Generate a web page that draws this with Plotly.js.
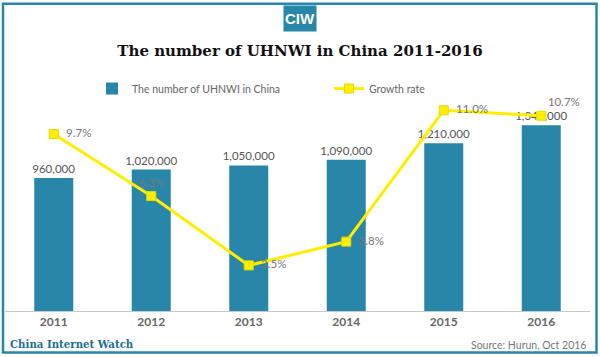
<!DOCTYPE html>
<html>
<head>
<meta charset="utf-8">
<script src="https://cdn.plot.ly/plotly-3.0.1.min.js"></script>
<style>
html,body{margin:0;padding:0;background:#fff;}
#chart{width:600px;height:357px;}
</style>
</head>
<body>
<div id="chart"></div>
<script>
const years = ['2011','2012','2013','2014','2015','2016'];
const uhnwi = [960000, 1020000, 1050000, 1090000, 1210000, 1340000];
const growth = [9.7, 6.3, 2.5, 3.8, 11.0, 10.7];
const growthLabelPos = ['middle right','top center','middle right','middle right','middle right','top right'];

const L = 5, R = 10, T = 102.5, B = 46, W = 600, H = 357;
const plotH = H - T - B, plotW = W - L - R;
const px = x => (x - L) / plotW;
const py = y => (H - B - y) / plotH;

const teal = '#2886a8';
const gfont = 'Lato, "Noto Sans", sans-serif';

const bars = {
  type: 'bar', x: years, y: uhnwi, name: 'The number of UHNWI in China',
  marker: {color: teal},
  text: uhnwi.map(v => v.toLocaleString('en-US')),
  textposition: 'outside', cliponaxis: false, constraintext: 'none',
  textfont: {family: gfont, size: 11.5, color: '#555'},
  hoverinfo: 'skip'
};
const line = {
  type: 'scatter', mode: 'lines+markers+text', x: years, y: growth, yaxis: 'y2',
  name: 'Growth rate',
  line: {color: '#ffee00', width: 3},
  marker: {symbol: 'square', size: 9, color: '#ffee00', line: {color: '#e8d800', width: 1}},
  text: growth.map((v, i) => (growthLabelPos[i] === 'middle right' ? '\u2002' : '') + v.toFixed(1) + '%'),
  textposition: growthLabelPos, cliponaxis: false,
  textfont: {family: gfont, size: 11.5, color: '#777'},
  hoverinfo: 'skip'
};

const layout = {
  width: W, height: H,
  margin: {l: L, r: R, t: T, b: B, pad: 0},
  paper_bgcolor: '#fff', plot_bgcolor: '#fff',
  bargap: 0.6,
  showlegend: true,
  title: {text: '<b>The number of UHNWI in China 2011-2016</b>',
          font: {family: '"DejaVu Serif", serif', size: 15, color: '#111'},
          x: 0.5, xanchor: 'center', y: 1 - 51/H, yanchor: 'middle'},
  legend: {orientation: 'h', x: px(92), xanchor: 'left', y: py(88), yanchor: 'middle',
           entrywidth: 192, entrywidthmode: 'pixels',
           font: {family: gfont, size: 10.5, color: '#666'}, bgcolor: 'rgba(0,0,0,0)'},
  xaxis: {type: 'category', showline: true, linecolor: '#c8c8c8', linewidth: 1,
          ticks: '', showgrid: false, zeroline: false,
          tickfont: {family: gfont, size: 12, color: '#666', weight: 'bold'}},
  yaxis: {range: [0, 1500000], visible: false, showgrid: false, zeroline: false},
  yaxis2: {range: [0, 11.4], overlaying: 'y', visible: false, showgrid: false, zeroline: false},
  shapes: [
    {type: 'rect', xref: 'paper', yref: 'paper', x0: px(3), x1: px(596.5), y0: py(352.5), y1: py(3),
     line: {color: teal, width: 2.5}, fillcolor: 'rgba(0,0,0,0)', layer: 'above'}
  ],
  annotations: [
    {xref: 'paper', yref: 'paper', x: px(300), y: py(17.5), xanchor: 'center', yanchor: 'middle',
     text: '<b>CIW</b>', showarrow: false, bgcolor: teal, width: 32, height: 25, borderpad: 0,
     font: {family: '"Liberation Sans Narrow", "Liberation Sans", sans-serif', size: 15, color: '#fff'}},
    {xref: 'paper', yref: 'paper', x: px(8), y: py(344), xanchor: 'left', yanchor: 'middle',
     text: '<b>China Internet Watch</b>', showarrow: false,
     font: {family: '"DejaVu Serif", serif', size: 10.2, color: '#1f6f8f'}},
    {xref: 'paper', yref: 'paper', x: px(588), y: py(345), xanchor: 'right', yanchor: 'middle',
     text: 'Source: Hurun, Oct 2016', showarrow: false,
     font: {family: gfont, size: 10.5, color: '#777'}}
  ]
};

Plotly.newPlot('chart', [bars, line], layout, {displayModeBar: false, staticPlot: true});
</script>
</body>
</html>
